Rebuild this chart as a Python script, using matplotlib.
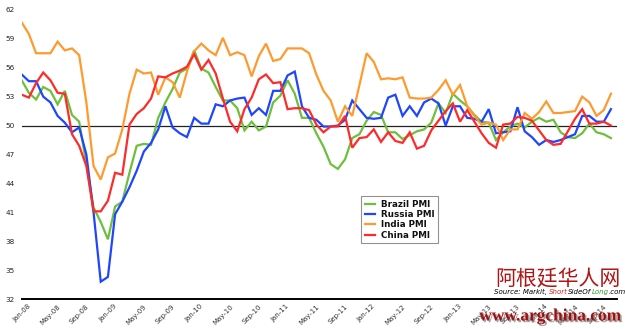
import matplotlib
matplotlib.use("Agg")
import matplotlib.pyplot as plt
import matplotlib.patheffects as pe
import numpy as np

# monthly PMI, Jan-08 .. Nov-14
brazil = [54.7, 53.4, 52.7, 54.0, 53.6, 52.2, 53.6, 51.1, 50.4, 46.0,
          41.5, 40.0, 38.2, 41.6, 42.1, 45.1, 47.9, 48.1, 48.0, 50.8,
          52.4, 53.8, 55.5, 55.9, 57.8, 55.9, 55.5, 54.0, 52.6, 52.6,
          51.8, 49.5, 50.4, 49.5, 49.9, 52.4, 53.1, 54.7, 53.3, 50.8,
          50.8, 49.2, 47.8, 46.0, 45.5, 46.5, 48.7, 49.1, 50.5, 51.4,
          51.1, 49.3, 49.3, 48.6, 49.0, 49.4, 49.6, 50.3, 52.3, 51.3,
          53.3, 52.6, 52.0, 51.1, 50.4, 50.3, 48.5, 49.3, 49.9, 50.2,
          49.8, 50.4, 50.8, 50.4, 50.6, 49.3, 48.8, 48.7, 49.2, 50.2,
          49.3, 49.1, 48.7]
russia = [55.3, 54.6, 54.6, 53.0, 52.4, 51.0, 50.3, 49.3, 49.8, 47.0,
          41.0, 33.8, 34.3, 40.8, 42.1, 43.6, 45.3, 47.3, 48.2, 49.6,
          52.0, 49.8, 49.2, 48.8, 50.8, 50.2, 50.2, 52.2, 52.0, 52.6,
          52.8, 52.9, 51.1, 51.8, 51.1, 53.6, 53.6, 55.2, 55.6, 52.0,
          50.8, 50.6, 49.9, 49.9, 50.0, 50.6, 52.6, 51.7, 50.8, 50.7,
          50.8, 52.9, 53.2, 51.0, 52.0, 51.0, 52.4, 52.8, 52.3, 50.0,
          52.0, 52.0, 50.8, 50.7, 50.4, 51.7, 49.2, 49.3, 49.4, 51.9,
          49.4, 48.8, 48.0, 48.5, 48.3, 48.5, 48.8, 49.1, 51.0, 51.0,
          50.4, 50.4, 51.7]
india = [60.7, 59.5, 57.5, 57.5, 57.5, 58.7, 57.8, 58.0, 57.3, 52.4,
         45.8, 44.4, 46.7, 47.1, 49.6, 53.3, 55.8, 55.4, 55.5, 53.2,
         55.0, 54.5, 52.9, 55.6, 57.7, 58.5, 57.8, 57.3, 59.1, 57.3,
         57.6, 57.3, 55.1, 57.2, 58.5, 56.7, 56.9, 58.0, 58.0, 58.0,
         57.5, 55.3, 53.6, 52.6, 50.4, 52.0, 51.0, 54.2, 57.5, 56.6,
         54.8, 54.9, 54.8, 55.0, 52.9, 52.8, 52.8, 52.9, 53.7, 54.7,
         53.2, 54.2, 52.0, 51.0, 50.1, 50.3, 50.1, 48.5, 49.6, 49.6,
         51.3, 50.7, 51.4, 52.5, 51.3, 51.3, 51.4, 51.5, 53.0, 52.4,
         51.0, 51.6, 53.3]
china = [53.2, 52.9, 54.4, 55.5, 54.7, 53.4, 53.3, 49.1, 47.9, 45.8,
         41.1, 41.1, 42.2, 45.1, 44.9, 50.1, 51.2, 51.8, 52.8, 55.1,
         55.0, 55.4, 55.7, 56.1, 57.4, 55.8, 56.8, 55.4, 52.8, 50.4,
         49.4, 51.7, 52.9, 54.8, 55.3, 54.4, 54.5, 51.7, 51.8, 51.8,
         51.6, 50.1, 49.3, 49.9, 49.9, 51.0, 47.7, 48.7, 48.8, 49.6,
         48.3, 49.3, 48.4, 48.2, 49.3, 47.6, 47.9, 49.5, 50.5, 51.5,
         52.3, 50.4, 51.6, 50.4, 49.2, 48.2, 47.7, 50.1, 50.2, 50.9,
         50.8, 50.5, 49.5, 48.5, 48.0, 48.1, 49.4, 50.7, 51.7, 50.2,
         50.2, 50.4, 50.0]

tick_labels = ["Jan-08", "May-08", "Sep-08", "Jan-09", "May-09", "Sep-09",
               "Jan-10", "May-10", "Sep-10", "Jan-11", "May-11", "Sep-11",
               "Jan-12", "May-12", "Sep-12", "Jan-13", "May-13", "Sep-13",
               "Jan-14", "May-14", "Sep-14"]
y_ticks = [32, 35, 38, 41, 44, 47, 50, 53, 56, 59, 62]

series = [("Brazil PMI", brazil, "#6dbf3c"),
          ("Russia PMI", russia, "#1f45ff"),
          ("India PMI", india, "#ff9a2e"),
          ("China PMI", china, "#ff2a2a")]

fig = plt.figure(figsize=(6.25, 3.29), dpi=100)
ax = fig.add_axes([0.0347, 0.091, 0.952, 0.879])

x = np.arange(len(brazil))
for name, vals, col in series:
    ax.plot(x, vals, color=col, lw=1.6, label=name, solid_joinstyle="miter")

ax.axhline(50, color="#222222", lw=0.9, zorder=1)

ax.set_xlim(0, 82.8)
ax.set_ylim(32, 62)
ax.set_yticks(y_ticks)
ax.set_yticklabels([str(t) for t in y_ticks], fontsize=5.2, color="#222222")
ax.set_xticks(np.arange(0, len(brazil), 4)[:len(tick_labels)])
ax.set_xticklabels(tick_labels, rotation=45, ha="center", fontsize=5,
                   color="#333333")
ax.tick_params(length=0)
ax.tick_params(axis="y", pad=5)
ax.tick_params(axis="x", pad=3)
for s in ["top", "right", "left"]:
    ax.spines[s].set_visible(False)
ax.spines["bottom"].set_linewidth(1.4)
ax.spines["bottom"].set_color("black")

leg = ax.legend(loc="center", bbox_to_anchor=(0.635, 0.274), fontsize=6.3,
                frameon=True, fancybox=False, handlelength=1.2,
                handletextpad=0.6, labelspacing=0.15, borderpad=0.4)
leg.get_frame().set_edgecolor("#777777")
leg.get_frame().set_linewidth(0.8)
for t in leg.get_texts():
    t.set_fontweight("bold")
    t.set_color("#111111")

# watermark and source
fig.text(0.9935, 0.151, "阿根廷华人网", ha="right", va="center", fontsize=15,
         color="#b01515", family=["Noto Sans CJK SC", "DejaVu Sans"],
         fontweight="light")
fig.text(0.9935, 0.038, "www.argchina.com", ha="right", va="center",
         fontsize=12.5, color="#a01010", family="Liberation Serif",
         fontweight="bold",
         path_effects=[pe.withSimplePatchShadow(offset=(1.2, -1.2),
                                                shadow_rgbFace="#888888",
                                                alpha=0.8)])

fig.canvas.draw()
rend = fig.canvas.get_renderer()
px, py = 494, 329 - 292
for txt, col in [("Source: Markit, ", "black"), ("Short", "#e02020"),
                 ("SideOf", "black"), ("Long", "#30a030"), (".com", "black")]:
    t = fig.text(px / 625, py / 329, txt, fontsize=5, style="italic",
                 color=col, va="center", ha="left")
    px = t.get_window_extent(rend).x1

fig.savefig("out.png", dpi=100)
